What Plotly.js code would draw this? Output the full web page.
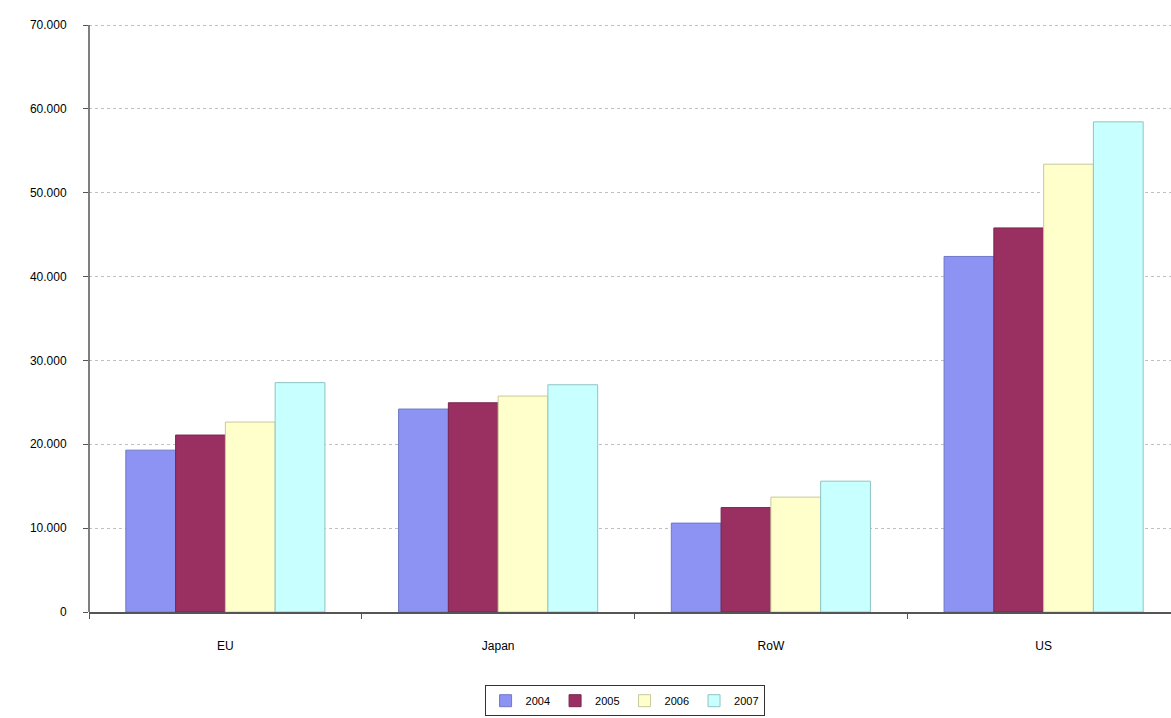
<!DOCTYPE html>
<html>
<head>
<meta charset="utf-8">
<script src="https://cdn.plot.ly/plotly-3.0.1.min.js"></script>
<style>html,body{margin:0;padding:0;background:#fff;}#chart{width:1171px;height:718px;}</style>
</head>
<body>
<div id="chart"></div>
<script>
const categories = ["EU", "Japan", "RoW", "US"];
const years = ["2004", "2005", "2006", "2007"];
const values2004 = [19300, 24200, 10600, 42400];
const values2005 = [21100, 24950, 12450, 45800];
const values2006 = [22650, 25750, 13700, 53400];
const values2007 = [27350, 27100, 15600, 58450];
const seriesValues = [values2004, values2005, values2006, values2007];
const fillColors = ["#8C93F2", "#9A2F62", "#FFFFCC", "#C8FFFF"];
const lineColors = ["#7078c8", "#7a2550", "#c8c89c", "#90c4c4"];

const traces = years.map((y, i) => ({
  type: "bar",
  name: y,
  x: categories,
  y: seriesValues[i],
  marker: {color: fillColors[i], line: {color: lineColors[i], width: 1}},
  hoverinfo: "x+y+name"
}));

const layout = {
  width: 1171, height: 718,
  margin: {l: 89, r: 0, t: 20, b: 106, autoexpand: false},
  paper_bgcolor: "#fff", plot_bgcolor: "#fff",
  separators: ",.",
  font: {family: "Liberation Sans, Arial, sans-serif", size: 12, color: "#000"},
  barmode: "group",
  bargap: 0.27,
  bargroupgap: 0,
  showlegend: true,
  legend: {
    orientation: "h", x: 0.495, xanchor: "center", y: -0.176, yanchor: "bottom",
    bordercolor: "#333", borderwidth: 1, font: {size: 11},
    itemwidth: 30, tracegroupgap: 0
  },
  xaxis: {
    range: [-0.5, 3.467],
    showline: true, linecolor: "#555", linewidth: 1.5,
    ticks: "outside", tickson: "boundaries", ticklen: 5, tickcolor: "#555",
    ticklabelstandoff: 22,
    showgrid: false, zeroline: false,
    tickfont: {size: 12}
  },
  yaxis: {
    range: [0, 70596],
    tickvals: [0, 10000, 20000, 30000, 40000, 50000, 60000, 70000],
    tickformat: ",d",
    showline: false,
    ticks: "outside", ticklen: 5, tickcolor: "#555",
    ticklabelstandoff: 14,
    showgrid: true, gridcolor: "#c0c0c0", griddash: "dot", gridwidth: 1,
    zeroline: false,
    tickfont: {size: 12}
  },
  shapes: [{
    type: "line", xref: "paper", yref: "y", x0: 0, x1: 0, y0: -300, y1: 70000,
    line: {color: "#555", width: 1.5}
  }]
};

Plotly.newPlot("chart", traces, layout, {displayModeBar: false, staticPlot: true});
</script>
</body>
</html>
